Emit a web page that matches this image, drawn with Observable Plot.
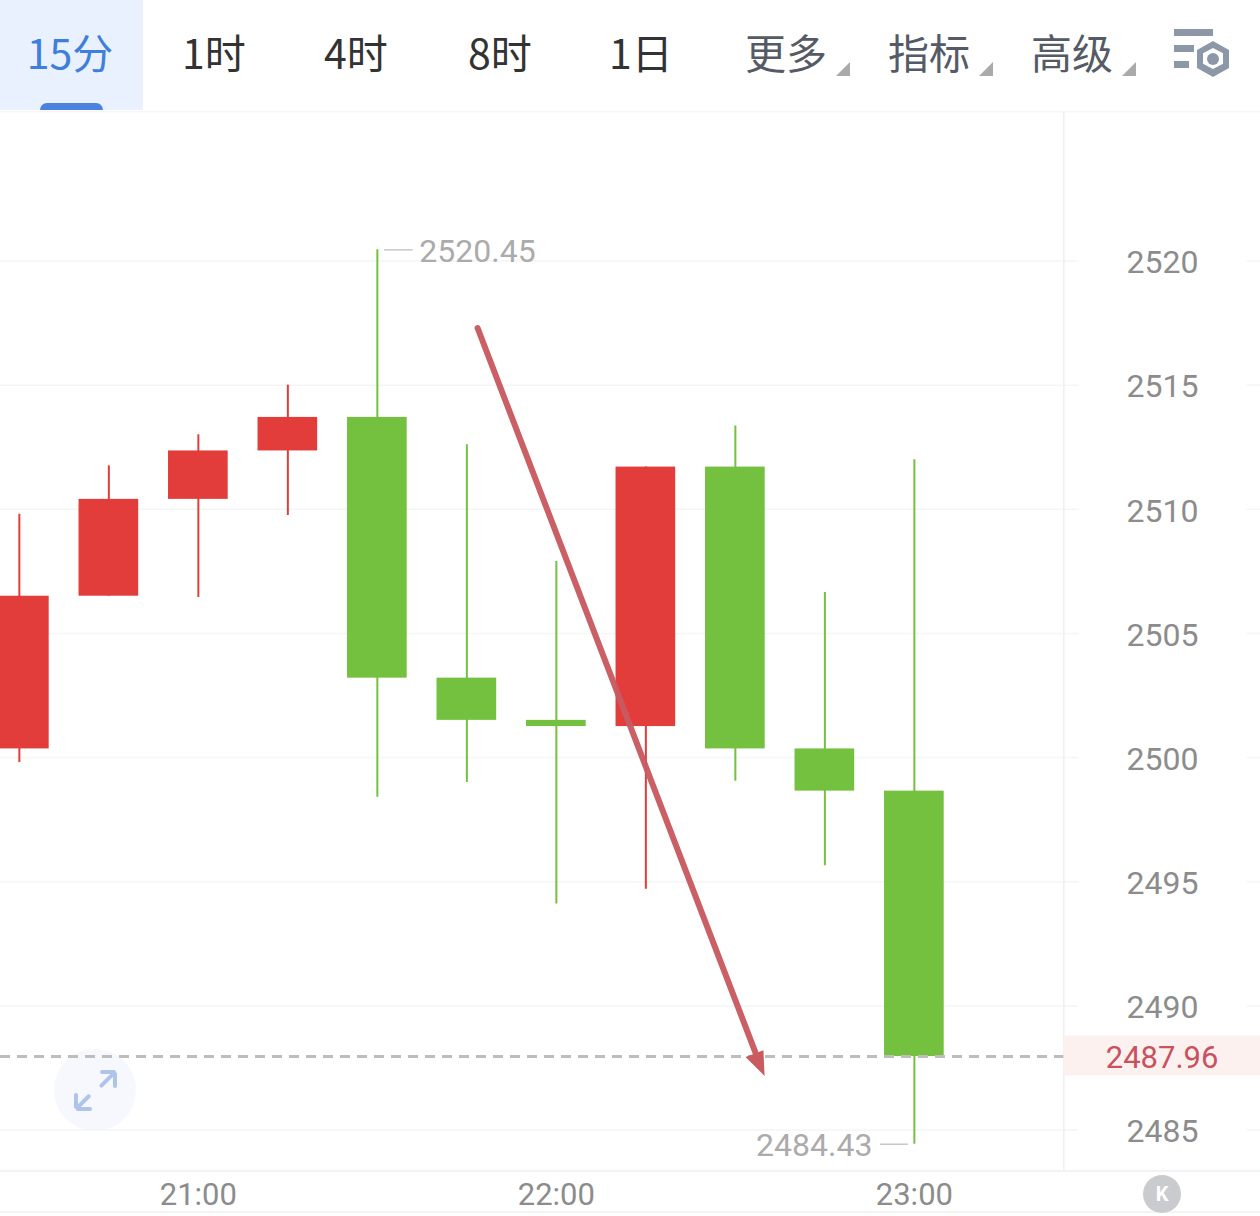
<!DOCTYPE html>
<html lang="zh">
<head>
<meta charset="utf-8">
<script src="https://cdn.jsdelivr.net/npm/d3@7"></script>
<script src="https://cdn.jsdelivr.net/npm/@observablehq/plot@0.6"></script>
<style>
html,body{margin:0;padding:0;background:#fff;}
#page{position:relative;width:1260px;height:1216px;overflow:hidden;font-family:"Noto Sans CJK SC","Noto Sans",sans-serif;}
#bar{position:absolute;left:0;top:0;width:1260px;height:111px;}
.tab{position:absolute;top:0;height:103px;line-height:103px;font-size:41px;color:#333;transform:translateX(-50%);white-space:nowrap;font-weight:400;}
.tab.more{color:#555b66;}
.tab.on{color:#3f7fdc;}
#active{position:absolute;left:0;top:0;width:143px;height:110px;background:#e8f1fd;}
#ind{position:absolute;left:40px;top:103px;width:63px;height:7px;background:#4a82dd;border-radius:8px 8px 0 0;}
.tri{position:absolute;top:62px;width:14px;height:14px;background:#aaa;clip-path:polygon(100% 0,100% 100%,0 100%);}
.ib{position:absolute;background:#8c98a8;}
#hex{position:absolute;left:1197px;top:41px;width:32px;height:36px;background:#8c98a8;clip-path:polygon(50% 0,100% 25%,100% 75%,50% 100%,0 75%,0 25%);}
#hexi{position:absolute;left:1203px;top:48px;width:20px;height:21px;background:#fff;clip-path:polygon(50% 0,100% 25%,100% 75%,50% 100%,0 75%,0 25%);}
#hexd{position:absolute;left:1207px;top:53px;width:12px;height:12px;border-radius:50%;background:#8c98a8;}
#exp{position:absolute;left:54px;top:1049px;width:82px;height:82px;border-radius:50%;background:#f6f8fd;}
#plot{position:absolute;left:0;top:111px;}
#kb{position:absolute;left:1143px;top:1175px;width:38px;height:38px;border-radius:50%;background:#c9cbcf;color:#fff;font:700 20px/38px Roboto,sans-serif;text-align:center;}
.al{position:absolute;height:4px;background:#aec4ea;border-radius:2px;transform-origin:0 50%;}
</style>
</head>
<body>
<div id="page">
  <div id="bar"></div>
  <div id="exp"></div>
  <div id="plot"></div>
  <div id="kb">K</div>
</div>
<script>
// ---- Data ----
const tabLabels = ["15分","1时","4时","8时","1日","更多","指标","高级"];
const candleTimes = ["20:30","20:45","21:00","21:15","21:30","21:45","22:00","22:15","22:30","22:45","23:00"];
const opens  = [2500.35,2506.5,2510.4,2512.35,2513.7,2503.2,2501.5,2501.25,2511.7,2500.35,2498.65];
const closes = [2506.5,2510.4,2512.35,2513.7,2503.2,2501.5,2501.25,2511.7,2500.35,2498.65,2487.96];
const highs  = [2509.8,2511.75,2513,2515,2520.45,2512.6,2507.9,2511.7,2513.35,2506.65,2512];
const lows   = [2499.8,2506.5,2506.45,2509.75,2498.4,2499,2494.1,2494.7,2499.05,2495.65,2484.43];
const priceTicks = [2485,2490,2495,2500,2505,2510,2515,2520];
const timeTicks = ["21:00","22:00","23:00"];
const lastPrice = 2487.96;
const maxLabel = {time:"21:30", price:2520.45};
const minLabel = {time:"23:00", price:2484.43};
const arrowShaft = {x:[1306.8,1353.4], y:[2517.3,2488.1]};
const arrowHead  = {x:[1351.7,1354.7,1354.9], y:[2487.94,2488.22,2487.18]};

const toMin = s => { const [h,m] = s.split(":").map(Number); return h*60+m; };
const fmtMin = m => `${Math.floor(m/60)}:${String(m%60).padStart(2,"0")}`;
const candles = candleTimes.map((t,i)=>({t:toMin(t),open:opens[i],close:closes[i],high:highs[i],low:lows[i]}));
const GREEN="#74c13f", RED="#e33d3b", GRID="#f5f5f5";
const color = d => d.close>=d.open ? RED : GREEN;

const X0=1226.84, X1=1438.01;
const Y0=2481.52, Y1=2526.02;
const mark = Plot.plot({
  width:1260, height:1105,
  marginLeft:0, marginRight:0, marginTop:0, marginBottom:0,
  style:{background:"transparent",fontFamily:"Roboto,sans-serif"},
  x:{type:"linear",domain:[X0,X1],range:[0,1260]},
  y:{type:"linear",domain:[Y0,Y1],range:[1105,0]},
  marks:[
    // frame lines
    Plot.ruleY(priceTicks,{x1:X0,x2:1407.6,stroke:GRID,strokeWidth:1.5}),
    Plot.ruleY(priceTicks,{x1:1435.8,x2:X1,stroke:GRID,strokeWidth:1.5}),
    Plot.ruleX([1405.05],{y1:2483.35,y2:Y1,stroke:"#efefef",strokeWidth:1.5}),
    Plot.ruleY([2483.35,2481.7],{x1:X0,x2:X1,stroke:"#efefef",strokeWidth:1.5}),
    Plot.ruleY([Y1],{x1:X0,x2:X1,stroke:"#f5f5f5",strokeWidth:2}),
    // last-price badge
    Plot.rect([lastPrice],{x1:1405.05,x2:X1,y1:2488.79,y2:2487.18,fill:"#fdf1f0"}),
    // candles
    Plot.ruleX(candles,{x:"t",y1:"low",y2:"high",stroke:color,strokeWidth:2}),
    Plot.rect(candles,{x1:d=>d.t-5,x2:d=>d.t+5,y1:"open",y2:"close",fill:color}),
    // last price line
    Plot.ruleY([lastPrice],{x1:X0,x2:1405.05,stroke:"#bdbdbd",strokeWidth:3,strokeDasharray:"10 7"}),
    // arrow
    Plot.line(arrowShaft.x.map((x,i)=>({x,y:arrowShaft.y[i]})),{x:"x",y:"y",stroke:"#c85a60",strokeWidth:6,strokeOpacity:.97}),
    Plot.line(arrowHead.x.map((x,i)=>({x,y:arrowHead.y[i]})),{x:"x",y:"y",fill:"#c85a60",stroke:"none"}),
    // hi / lo labels
    Plot.ruleY([maxLabel.price],{x1:toMin(maxLabel.time)+1.2,x2:toMin(maxLabel.time)+6,stroke:"#c8c8c8",strokeWidth:1.5}),
    Plot.text([maxLabel],{x:d=>toMin(d.time),y:"price",text:d=>d.price.toFixed(2),textAnchor:"start",dx:42,dy:2,fontSize:32,fill:"#ababab"}),
    Plot.ruleY([minLabel.price],{x1:toMin(minLabel.time)-5.7,x2:toMin(minLabel.time)-1,stroke:"#c8c8c8",strokeWidth:1.5}),
    Plot.text([minLabel],{x:d=>toMin(d.time),y:"price",text:d=>d.price.toFixed(2),textAnchor:"end",dx:-42,dy:2,fontSize:32,fill:"#ababab"}),
    // axes
    Plot.axisY({anchor:"right",ticks:priceTicks,tickSize:0,tickPadding:0,label:null,tickFormat:d=>String(d),textAnchor:"middle",dx:-98,dy:2,fontSize:32,fill:"#8c8c8c"}),
    Plot.text([lastPrice],{x:1407.1+(1162-1079)/5.967,y:d=>d,text:d=>d.toFixed(2),fontSize:31,fill:"#c9525e",dx:3,dy:1}),
    Plot.axisX({anchor:"bottom",ticks:timeTicks.map(toMin),tickSize:0,tickPadding:0,label:null,tickFormat:fmtMin,dy:-34,fontSize:31,fill:"#8c8c8c"})
  ]
});
document.getElementById("plot").appendChild(mark);

// ---- Toolbar ----
const bar=document.getElementById("bar");
const tabCenters=[70,214,356,500,641,786,929,1072];
let html='<div id="active"></div><div id="ind"></div>';
tabLabels.forEach((t,i)=>{
  html+=`<div class="tab${i===0?" on":""}${i>=5?" more":""}" style="left:${tabCenters[i]}px">${t}</div>`;
});
[836,979,1122].forEach(x=>{html+=`<div class="tri" style="left:${x}px"></div>`;});
html+='<div class="ib" style="left:1174px;top:29px;width:39px;height:7px"></div>';
html+='<div class="ib" style="left:1174px;top:45px;width:20px;height:7px"></div>';
html+='<div class="ib" style="left:1174px;top:61px;width:15px;height:7px"></div>';
html+='<div id="hex"></div><div id="hexi"></div><div id="hexd"></div>';
bar.innerHTML=html;

// ---- Expand icon ----
const exp=document.getElementById("exp");
const seg=(x,y,l,a)=>`<div class="al" style="left:${x}px;top:${y-2}px;width:${l}px;transform:rotate(${a}deg)"></div>`;
exp.innerHTML=seg(46,38,21,-45)+seg(46,23,16,0)+seg(61,23,16,90)+seg(22,60,20,-45)+seg(22,44,16,90)+seg(22,60,16,0);
</script>
</body>
</html>
